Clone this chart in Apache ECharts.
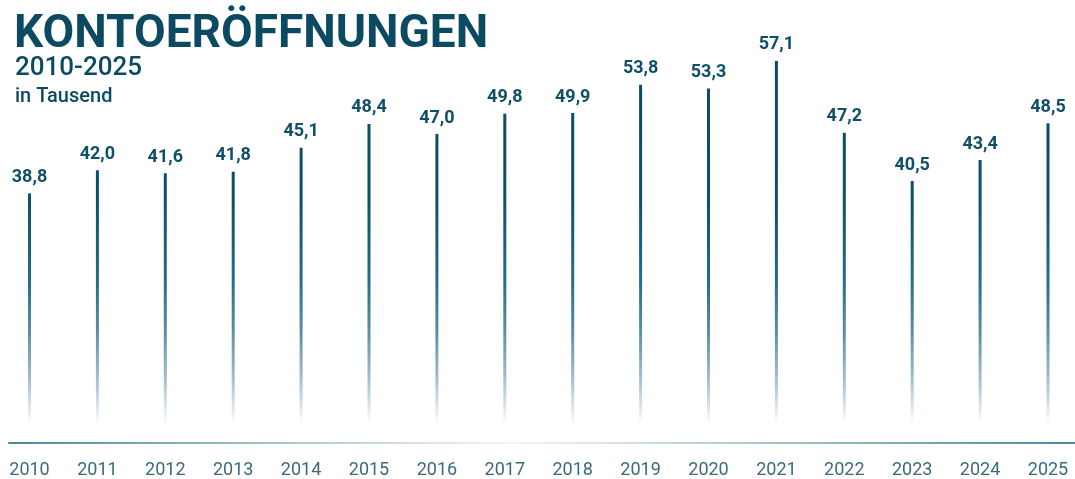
<!DOCTYPE html>
<html>
<head>
<meta charset="utf-8">
<script src="https://cdn.jsdelivr.net/npm/echarts@6/dist/echarts.min.js"></script>
<style>
html,body{margin:0;padding:0;background:#fff;}
#chart{width:1075px;height:479px;}
</style>
</head>
<body>
<div id="chart"></div>
<script>
const years = ['2010','2011','2012','2013','2014','2015','2016','2017','2018','2019','2020','2021','2022','2023','2024','2025'];
const accountOpenings = [38.8,42.0,41.6,41.8,45.1,48.4,47.0,49.8,49.9,53.8,53.3,57.1,47.2,40.5,43.4,48.5];
const titleText = 'KONTOERÖFFNUNGEN';
const subtitleText = '2010-2025';
const unitText = 'in Tausend';

const FONT = 'Roboto, "Noto Sans", sans-serif';
const DARK = '#0c4a62';

const chart = echarts.init(document.getElementById('chart'), null, {renderer: 'canvas'});

const barGradient = new echarts.graphic.LinearGradient(0, 40, 0, 428, [
  {offset: 0, color: '#0b4a63'},
  {offset: 0.41, color: '#0d5069'},
  {offset: 0.62, color: '#226e89'},
  {offset: 0.75, color: '#5c8ea5'},
  {offset: 0.88, color: '#a9c0cf'},
  {offset: 0.97, color: '#eef3f6'},
  {offset: 1, color: 'rgba(255,255,255,0)'}
], true);

const axisGradient = new echarts.graphic.LinearGradient(9, 0, 1075, 0, [
  {offset: 0, color: '#4d8a99'},
  {offset: 0.47, color: '#f3f6f8'},
  {offset: 1, color: '#4d8a99'}
], true);

const option = {
  animation: false,
  backgroundColor: '#ffffff',
  title: [
    {text: titleText, left: 9, top: 7,
     textStyle: {fontFamily: FONT, fontSize: 46, fontWeight: 'bold', color: DARK}},
    {text: subtitleText, left: 10, top: 50,
     textStyle: {fontFamily: FONT, fontSize: 26, fontWeight: 500, color: DARK}},
    {text: unitText, left: 10, top: 82,
     textStyle: {fontFamily: FONT, fontSize: 20, fontWeight: 500, color: DARK}}
  ],
  grid: [
    {left: 29.5, right: 27, top: 40, bottom: 36, containLabel: false},
    {left: 9, right: 0, top: 40, bottom: 36, containLabel: false}
  ],
  xAxis: [
    {type: 'category', gridIndex: 0, data: years, boundaryGap: false,
     axisLine: {show: false}, axisTick: {show: false}, splitLine: {show: false},
     axisLabel: {show: true, margin: 23, fontFamily: FONT, fontSize: 18, color: '#3a6a7c'}},
    {type: 'value', gridIndex: 1, min: 0, max: 1,
     axisLine: {show: true, onZero: false, lineStyle: {color: axisGradient, width: 2}},
     axisTick: {show: false}, axisLabel: {show: false}, splitLine: {show: false}}
  ],
  yAxis: [
    {type: 'value', gridIndex: 0, min: 5, max: 60, show: false, splitLine: {show: false}},
    {type: 'value', gridIndex: 1, min: 0, max: 1, show: false, splitLine: {show: false}}
  ],
  series: [{
    type: 'bar',
    xAxisIndex: 0, yAxisIndex: 0,
    data: accountOpenings,
    barWidth: 3,
    itemStyle: {color: barGradient},
    label: {
      show: true, position: 'top', distance: 7,
      fontFamily: FONT, fontSize: 18, fontWeight: 'bold', color: '#0f4f67',
      formatter: p => p.value.toFixed(1).replace('.', ',')
    }
  }]
};
chart.setOption(option);
</script>
</body>
</html>
